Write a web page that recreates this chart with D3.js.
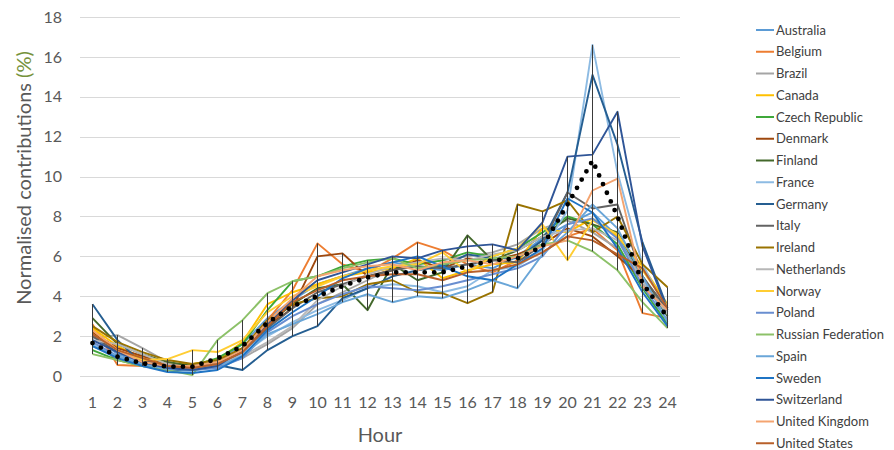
<!DOCTYPE html>
<html>
<head>
<meta charset="utf-8">
<script src="https://cdn.jsdelivr.net/npm/d3@7"></script>
<style>
  html, body { margin: 0; padding: 0; background: #fff; }
  svg { display: block; font-family: Lato, "Open Sans", sans-serif; }
</style>
</head>
<body>
<svg id="chart"></svg>
<script>
// hour categories (tick labels)
const hours = [1, 2, 3, 4, 5, 6, 7, 8, 9, 10, 11, 12, 13, 14, 15, 16, 17, 18, 19, 20, 21, 22, 23, 24];
const yTicks = [0, 2, 4, 6, 8, 10, 12, 14, 16, 18];

const countries = ["Australia", "Belgium", "Brazil", "Canada", "Czech Republic", "Denmark", "Finland",
  "France", "Germany", "Italy", "Ireland", "Netherlands", "Norway", "Poland", "Russian Federation",
  "Spain", "Sweden", "Switzerland", "United Kingdom", "United States"];

// normalised contributions (%) per hour
const australia   = [2.0, 1.1, 0.7, 0.4, 0.35, 0.7, 1.6, 2.9, 3.8, 4.6, 5.0, 5.4, 5.7, 5.5, 5.3, 5.6, 5.4, 6.0, 6.9, 7.6, 8.2, 7.0, 4.8, 3.0];
const belgium     = [2.6, 0.55, 0.5, 0.35, 0.3, 0.55, 1.3, 2.8, 4.3, 6.65, 5.6, 5.2, 5.9, 6.7, 6.3, 5.6, 5.2, 5.8, 6.2, 7.0, 7.4, 6.3, 3.15, 2.9];
const brazil      = [1.9, 2.05, 1.4, 0.7, 0.4, 0.5, 0.9, 1.6, 2.4, 3.6, 4.2, 4.8, 5.4, 5.6, 5.8, 6.0, 6.2, 6.6, 7.4, 7.8, 7.2, 6.4, 4.6, 3.2];
const canada      = [2.4, 1.5, 0.9, 0.6, 0.6, 0.8, 1.7, 3.6, 4.2, 4.6, 5.0, 5.2, 5.4, 5.9, 4.9, 5.3, 5.6, 5.7, 7.4, 7.2, 7.9, 7.0, 5.5, 3.6];
const czech       = [1.3, 0.8, 0.5, 0.35, 0.5, 0.9, 1.6, 3.3, 4.75, 5.0, 5.5, 5.8, 5.9, 5.6, 5.8, 6.2, 6.0, 6.4, 7.2, 8.0, 7.6, 6.6, 4.4, 2.6];
const denmark     = [2.2, 1.4, 1.0, 0.6, 0.45, 0.6, 1.2, 2.5, 3.4, 6.0, 6.15, 5.0, 5.3, 5.8, 5.4, 5.9, 5.8, 6.1, 6.6, 7.4, 7.0, 6.0, 4.9, 3.4];
const finland     = [2.9, 1.6, 1.1, 0.7, 0.5, 0.7, 1.4, 2.6, 3.6, 4.4, 4.6, 3.3, 5.6, 4.8, 5.2, 7.05, 5.8, 6.3, 7.0, 7.9, 7.6, 7.2, 5.0, 3.0];
const france      = [1.6, 0.9, 0.5, 0.3, 0.25, 0.5, 1.1, 2.0, 2.7, 3.3, 3.8, 4.4, 4.6, 4.5, 4.2, 4.5, 5.3, 5.5, 6.3, 8.3, 16.6, 10.2, 5.6, 3.2];
const germany     = [3.6, 1.8, 0.6, 0.3, 0.3, 0.55, 0.3, 1.3, 2.0, 2.5, 3.9, 4.4, 5.0, 5.3, 5.5, 6.1, 5.9, 5.9, 6.8, 9.2, 15.1, 11.6, 6.7, 3.4];
const italy       = [2.0, 1.2, 0.8, 0.5, 0.4, 0.6, 1.2, 2.4, 3.4, 4.2, 4.6, 5.0, 5.3, 5.5, 5.4, 5.6, 5.8, 5.7, 6.6, 9.2, 8.4, 8.6, 5.0, 3.3];
const ireland     = [2.5, 1.7, 1.2, 0.8, 0.6, 0.8, 1.4, 2.8, 3.6, 3.9, 4.0, 4.6, 4.8, 4.2, 4.15, 3.65, 4.2, 8.6, 8.25, 8.8, 7.2, 8.0, 5.6, 4.45];
const netherlands = [1.8, 1.6, 1.1, 0.6, 0.4, 0.6, 1.0, 1.7, 2.5, 3.8, 4.5, 5.1, 5.5, 5.7, 5.9, 5.8, 6.1, 6.3, 7.0, 7.3, 7.4, 6.8, 4.8, 3.1];
const norway      = [2.3, 1.3, 0.8, 0.85, 1.3, 1.2, 1.8, 3.2, 4.0, 4.5, 5.0, 5.3, 5.5, 5.6, 6.2, 5.2, 6.0, 6.4, 7.6, 5.8, 7.8, 7.1, 5.3, 3.5];
const poland      = [1.7, 1.0, 0.6, 0.4, 0.3, 0.4, 0.9, 2.2, 3.0, 3.6, 4.1, 4.5, 4.4, 4.3, 4.5, 4.8, 5.1, 5.4, 6.0, 7.6, 7.9, 6.9, 4.5, 2.8];
const russia      = [1.1, 0.8, 0.5, 0.3, 0.05, 1.8, 2.8, 4.15, 4.75, 5.0, 5.4, 5.7, 5.9, 5.4, 5.6, 5.8, 5.9, 6.0, 6.6, 6.8, 6.25, 5.3, 3.7, 2.4];
const spain       = [1.5, 1.0, 0.6, 0.35, 0.3, 0.5, 1.0, 2.1, 2.6, 3.1, 3.7, 4.1, 3.7, 4.0, 3.9, 4.3, 4.8, 4.4, 6.1, 7.2, 8.6, 7.4, 5.0, 2.7];
const sweden      = [1.5, 0.9, 0.5, 0.2, 0.15, 0.3, 1.0, 2.3, 3.2, 4.0, 4.9, 5.4, 5.7, 6.0, 5.5, 5.0, 4.8, 5.6, 6.4, 8.9, 8.2, 6.4, 4.2, 2.5];
const switzerland = [1.8, 1.2, 0.7, 0.4, 0.3, 0.5, 1.3, 2.6, 3.8, 4.8, 5.2, 5.6, 6.0, 5.9, 6.3, 6.5, 6.6, 6.3, 7.7, 11.0, 11.1, 13.25, 6.5, 3.3];
const uk          = [2.3, 1.3, 0.7, 0.5, 0.5, 0.7, 1.3, 2.7, 3.9, 5.0, 5.3, 5.5, 5.6, 5.3, 5.7, 5.8, 5.6, 6.0, 6.5, 6.8, 9.3, 9.9, 4.5, 3.3];
const usa         = [2.1, 1.3, 0.9, 0.5, 0.4, 0.6, 1.2, 2.5, 3.7, 4.3, 4.8, 5.0, 5.1, 5.1, 4.8, 5.2, 5.3, 5.6, 6.2, 7.0, 6.8, 6.1, 5.4, 3.4];

// dotted overall line
const overall = [1.65, 0.97, 0.63, 0.47, 0.47, 0.88, 1.5, 2.67, 3.5, 4.0, 4.5, 4.95, 5.2, 5.2, 5.2, 5.5, 5.8, 5.9, 6.5, 8.6, 10.8, 8.0, 4.65, 2.95];

const seriesValues = [australia, belgium, brazil, canada, czech, denmark, finland, france, germany, italy,
  ireland, netherlands, norway, poland, russia, spain, sweden, switzerland, uk, usa];

const colors = ["#5B9BD5", "#ED7D31", "#A5A5A5", "#FFC000", "#3FA83A", "#9E480E", "#43682B",
  "#8DBBE3", "#255E91", "#636363", "#997300", "#B7B7B7", "#FFCD33", "#698ED0", "#8CC168",
  "#6AA6D8", "#1F74C4", "#2F5597", "#F4A470", "#B8602A"];

const width = 894, height = 450;
const margin = {top: 17, right: 214, bottom: 74, left: 80};

const svg = d3.select("#chart")
    .attr("width", width)
    .attr("height", height);

const x = d3.scaleBand()
    .domain(hours)
    .range([margin.left, width - margin.right]);

const y = d3.scaleLinear()
    .domain([0, 18])
    .range([height - margin.bottom, margin.top]);

const cx = h => x(h) + x.bandwidth() / 2;

// gridlines
svg.append("g")
    .attr("stroke", "#D9D9D9")
    .attr("stroke-width", 1)
    .selectAll("line")
    .data(yTicks)
    .join("line")
    .attr("x1", margin.left)
    .attr("x2", width - margin.right)
    .attr("y1", d => Math.round(y(d)) + 0.5)
    .attr("y2", d => Math.round(y(d)) + 0.5);

// axes (labels only)
const yAxis = svg.append("g")
    .attr("transform", `translate(${margin.left},0)`)
    .call(d3.axisLeft(y).tickValues(yTicks).tickSize(0).tickPadding(18));
yAxis.select(".domain").remove();
yAxis.selectAll("text")
    .attr("fill", "#595959")
    .style("font-size", "16px")
    .style("font-family", "Lato, sans-serif");

const xAxis = svg.append("g")
    .attr("transform", `translate(0,${height - margin.bottom})`)
    .call(d3.axisBottom(x).tickSize(0).tickPadding(21));
xAxis.select(".domain").remove();
xAxis.selectAll("text")
    .attr("fill", "#595959")
    .style("font-size", "16px")
    .style("font-family", "Lato, sans-serif");

// axis titles
svg.append("text")
    .attr("x", (margin.left + width - margin.right) / 2)
    .attr("y", 442)
    .attr("text-anchor", "middle")
    .attr("fill", "#595959")
    .style("font-size", "20px")
    .text("Hour");

const yTitle = svg.append("text")
    .attr("transform", "translate(31,178) rotate(-90)")
    .attr("text-anchor", "middle")
    .attr("fill", "#595959")
    .style("font-size", "20px");
yTitle.append("tspan").text("Normalised contributions ");
yTitle.append("tspan").attr("fill", "#76923C").text("(%)");

// country lines
const line = d3.line()
    .x((d, i) => cx(hours[i]))
    .y(d => y(d));

svg.append("g")
    .attr("fill", "none")
    .attr("stroke-width", 1.9)
    .attr("stroke-linejoin", "round")
    .selectAll("path")
    .data(seriesValues)
    .join("path")
    .attr("stroke", (d, i) => colors[i])
    .attr("d", line);

// high-low lines
svg.append("g")
    .attr("stroke", "#3a3a3a")
    .attr("stroke-width", 1)
    .selectAll("line")
    .data(hours)
    .join("line")
    .attr("x1", h => cx(h))
    .attr("x2", h => cx(h))
    .attr("y1", (h, i) => y(d3.max(seriesValues, s => s[i])))
    .attr("y2", (h, i) => y(d3.min(seriesValues, s => s[i])));

// dotted overall
svg.append("path")
    .datum(overall)
    .attr("fill", "none")
    .attr("stroke", "#000")
    .attr("stroke-width", 4.8)
    .attr("stroke-linecap", "round")
    .attr("stroke-dasharray", "0 9.5")
    .attr("d", line);

// legend
const legend = svg.append("g")
    .selectAll("g")
    .data(countries)
    .join("g")
    .attr("transform", (d, i) => `translate(756,${30 + i * 21.75})`);

legend.append("line")
    .attr("x1", 0)
    .attr("x2", 18)
    .attr("stroke", (d, i) => colors[i])
    .attr("stroke-width", 2);

legend.append("text")
    .attr("x", 20)
    .attr("dy", "0.35em")
    .attr("fill", "#404040")
    .style("font-size", "13px")
    .text(d => d);
</script>
</body>
</html>
